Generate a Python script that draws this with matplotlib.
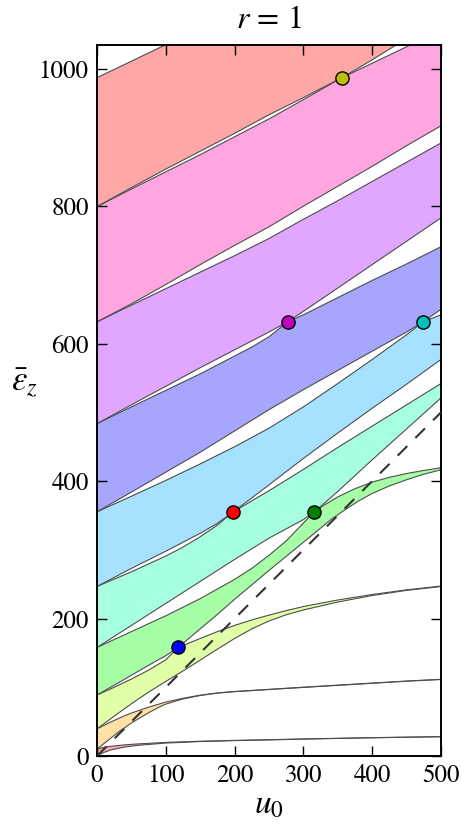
import matplotlib
matplotlib.use("Agg")
import matplotlib.pyplot as plt

plt.rcParams['font.family'] = 'STIXGeneral'
plt.rcParams['mathtext.fontset'] = 'stix'

# band edges (u0, energy), lowest band first
red_lo = [(0, 0), (5, 2.8), (10, 5.2), (20, 8.8), (40, 13), (60, 15.6), (100, 18.8), (150, 21),
          (200, 22.4), (250, 23.4), (300, 24.6), (400, 26.5), (500, 28)]
red_hi = [(0, 9.9), (5, 11.4), (10, 12.6), (20, 14.2), (40, 16.2), (60, 17.6), (100, 19.8), (150, 21.5),
          (200, 22.7), (250, 23.7), (300, 24.8), (400, 26.7), (500, 28.2)]

orange_lo = [(0, 9.9), (10, 18), (20, 26), (30, 34), (40, 41), (50, 48), (60, 54), (75, 63), (90, 71),
             (100, 75.5), (125, 83), (150, 88), (175, 91.5), (200, 93.6), (250, 96.7), (300, 99.8),
             (350, 102.8), (400, 105.8), (450, 108.8), (500, 111.3)]
orange_hi = [(0, 39.5), (10, 44.5), (20, 49.5), (30, 54), (40, 58.5), (50, 62.5), (60, 66), (75, 71),
             (90, 75.5), (100, 78.5), (125, 84), (150, 88.5), (175, 91.8), (200, 93.9), (250, 97),
             (300, 100.1), (350, 103.1), (400, 106.1), (450, 109.1), (500, 111.6)]

yellow_lo = [(0, 39.5), (25, 58), (50, 76), (75, 93), (100, 108.5), (118, 119.5), (135, 130), (150, 139.5),
             (175, 155.5), (200, 171), (225, 185), (250, 196.5), (275, 205.5), (300, 212.5), (350, 224),
             (400, 233.5), (450, 241), (500, 246.5)]
yellow_hi = [(0, 88.8), (25, 100), (50, 112), (75, 125), (100, 140), (118, 157.9), (150, 171), (175, 181),
             (200, 190), (225, 198), (250, 205), (275, 211.5), (300, 217.5), (350, 227), (400, 235),
             (450, 241.8), (500, 247.3)]

green_lo = [(0, 88.8), (25, 103), (50, 117.5), (75, 132), (100, 146), (118, 157.9), (150, 185), (175, 206),
            (200, 228), (250, 270), (300, 311), (340, 344), (360, 358), (380, 371), (400, 382), (425, 393),
            (450, 402), (475, 410), (500, 416.5)]
green_hi = [(0, 157.9), (50, 181), (100, 204), (150, 229), (200, 257), (225, 273), (250, 292), (275, 313),
            (300, 339), (316, 355.3), (330, 365), (350, 377), (375, 389), (400, 398.5), (425, 405.5),
            (450, 411), (475, 415.5), (500, 419.5)]

aqua_lo = [(0, 157.9), (50, 190), (100, 222), (150, 254), (200, 286), (250, 317), (300, 344), (316, 355.3),
           (350, 385), (400, 431), (450, 476), (500, 521)]
aqua_hi = [(0, 246.7), (50, 268), (100, 291), (125, 304), (150, 319), (175, 336), (198, 355.3), (250, 386),
           (300, 417), (350, 449), (400, 480), (450, 511), (500, 542)]

lblue_lo = [(0, 246.7), (50, 273), (100, 298), (150, 324), (175, 338.5), (198, 355.3), (225, 375.5),
            (250, 394.5), (300, 433), (350, 470), (400, 506), (450, 541), (500, 577)]
lblue_hi = [(0, 355.3), (50, 378), (100, 401), (150, 425), (200, 450), (250, 477), (300, 508), (350, 542),
            (400, 577), (450, 613), (474, 631.7), (500, 642)]

bviolet_lo = [(0, 355.3), (50, 384), (100, 413), (150, 442), (200, 473), (250, 504), (300, 533), (350, 561),
              (400, 589), (450, 617), (474, 631.7), (500, 650)]
bviolet_hi = [(0, 483.6), (50, 508), (100, 532), (150, 556), (200, 582), (225, 595), (250, 610), (277, 631.7),
              (300, 642), (350, 667), (400, 692), (450, 716), (500, 741)]

violet_lo = [(0, 483.6), (50, 511), (100, 538), (150, 565), (200, 591), (250, 617), (277, 631.7), (300, 647),
             (350, 681), (400, 715), (450, 749), (500, 783)]
violet_hi = [(0, 631.7), (50, 656), (100, 680), (150, 704), (200, 728), (250, 753), (300, 781), (350, 808),
             (400, 836), (450, 864), (500, 892)]

pink_lo = [(0, 631.7), (50, 658), (100, 686), (150, 715), (200, 743), (250, 770), (300, 800), (350, 829),
           (400, 858), (450, 888), (500, 917)]
pink_hi = [(0, 799.4), (50, 825), (100, 850), (150, 875), (200, 901), (250, 927), (300, 955), (356, 987),
           (400, 1008), (450, 1032), (500, 1056)]

salmon_lo = [(0, 799.4), (50, 827), (100, 854), (150, 880), (200, 906), (250, 933), (300, 958), (356, 987),
             (400, 1013), (450, 1044), (500, 1075)]
salmon_hi = [(0, 987), (50, 1011), (100, 1035), (200, 1083), (300, 1131), (400, 1179), (500, 1227)]

bands = [(red_lo, red_hi), (orange_lo, orange_hi), (yellow_lo, yellow_hi), (green_lo, green_hi),
         (aqua_lo, aqua_hi), (lblue_lo, lblue_hi), (bviolet_lo, bviolet_hi), (violet_lo, violet_hi),
         (pink_lo, pink_hi), (salmon_lo, salmon_hi)]
band_colors = ['#ff0000', '#ffaa00', '#aaff00', '#00ff00', '#00ffaa', '#00aaff',
               '#0000ff', '#aa00ff', '#ff00aa', '#ff0000']

# points where neighbouring bands touch
dot_u = [118, 198, 316, 277, 474, 356]
dot_e = [157.9, 355.3, 355.3, 631.7, 631.7, 987]
dot_colors = ['b', 'r', 'g', 'm', 'c', 'y']

fig = plt.figure(figsize=(4.62, 8.25), dpi=100)
ax = fig.add_axes([97 / 462, 69 / 825, 344 / 462, 711.3 / 825])

for (lo, hi), c in zip(bands, band_colors):
    poly = lo + hi[::-1]
    ax.fill([p[0] for p in poly], [p[1] for p in poly], color=c, alpha=0.35, lw=0, zorder=1)
    for edge in (lo, hi):
        ax.plot([p[0] for p in edge], [p[1] for p in edge], color='0.3', lw=0.8, zorder=2)

ax.plot([0, 500], [0, 500], color='0.2', lw=1.5, ls=(0, (6.5, 5.5)), zorder=3)

for u, e, c in zip(dot_u, dot_e, dot_colors):
    ax.plot(u, e, 'o', color=c, mec='k', mew=1, ms=9.5, zorder=4)

ax.set_xlim(0, 500)
ax.set_ylim(0, 1035)
ax.set_xticks([0, 100, 200, 300, 400, 500])
ax.set_yticks([0, 200, 400, 600, 800, 1000])
ax.tick_params(direction='in', top=True, right=True, length=7, width=1, labelsize=18, pad=6)
for s in ax.spines.values():
    s.set_linewidth(1.4)

ax.set_title(r'$r\,=\,1$', fontsize=23, pad=12)
ax.set_xlabel('$u_0$', fontsize=24, labelpad=2)
ax.set_ylabel(r'$\bar{\varepsilon}_z$', fontsize=25, rotation=0, ha='center', va='center')
ax.yaxis.set_label_coords(-0.21, 0.525)

fig.savefig('out.png', dpi=100)
